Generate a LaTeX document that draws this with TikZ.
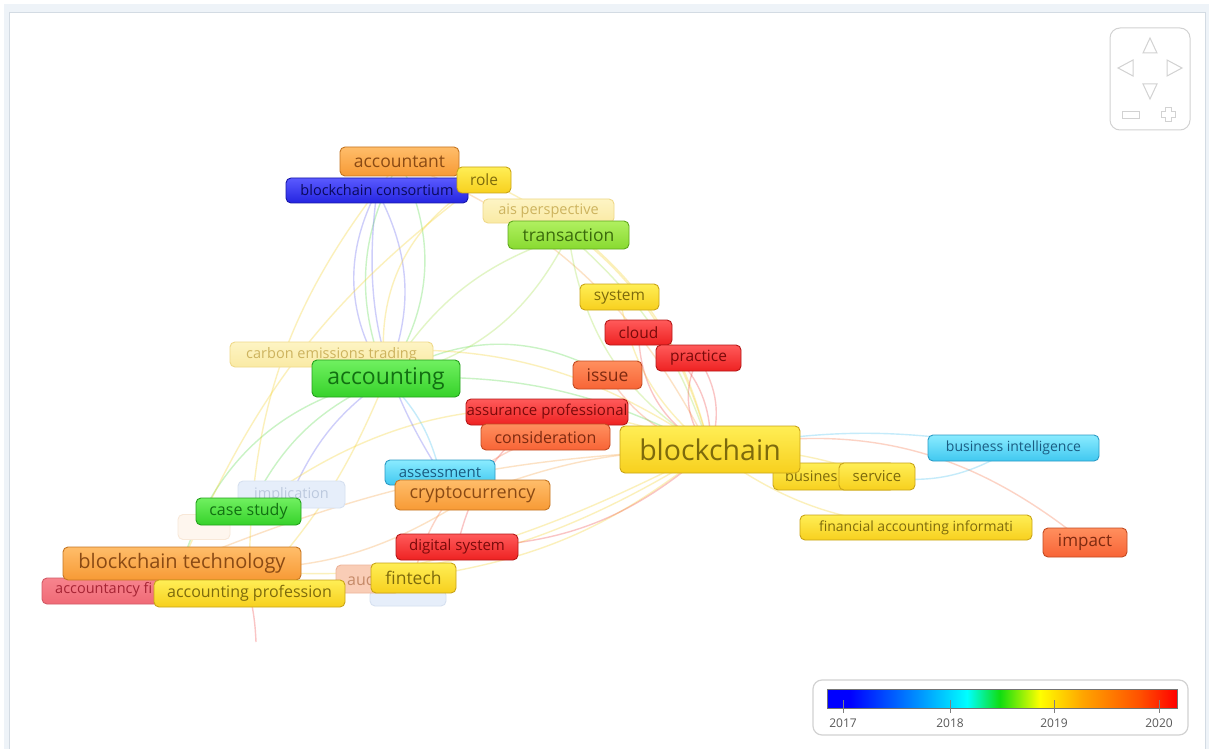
\documentclass[tikz,border=0pt]{standalone}
\usepackage{fontspec}
\setmainfont{Open Sans}
\definecolor{vblue}{HTML}{0000FF}
\definecolor{vazure}{HTML}{0096FF}
\definecolor{vcyan}{HTML}{00FFFF}
\definecolor{vgreen}{HTML}{10DD10}
\definecolor{vyellow}{HTML}{FFFF00}
\definecolor{vorange}{HTML}{FFA500}
\definecolor{vred2}{HTML}{FF5000}
\definecolor{vred}{HTML}{FF0000}
\pgfdeclarehorizontalshading{vosbar}{100bp}{color(0bp)=(vblue); color(25bp)=(vblue); color(28.3bp)=(vblue); color(38.3bp)=(vazure); color(45bp)=(vcyan); color(49.7bp)=(vgreen); color(55.4bp)=(vyellow); color(61.5bp)=(vorange); color(69.7bp)=(vred2); color(75bp)=(vred); color(100bp)=(vred)}
% node colours: T top, B bottom, D border, X text
\definecolor{yT}{HTML}{FFEE55}\definecolor{yB}{HTML}{F7D01E}\definecolor{yD}{HTML}{C9A418}\definecolor{yX}{HTML}{7D6A0C}
\definecolor{oT}{HTML}{FFBD6A}\definecolor{oB}{HTML}{F79A35}\definecolor{oD}{HTML}{C47522}\definecolor{oX}{HTML}{8A4A14}
\definecolor{rT}{HTML}{FF8F5E}\definecolor{rB}{HTML}{F86436}\definecolor{rD}{HTML}{C24A22}\definecolor{rX}{HTML}{7E2A10}
\definecolor{dT}{HTML}{FF5A5A}\definecolor{dB}{HTML}{EE2222}\definecolor{dD}{HTML}{B51818}\definecolor{dX}{HTML}{7A0A0A}
\definecolor{gT}{HTML}{70F060}\definecolor{gB}{HTML}{36D22A}\definecolor{gD}{HTML}{24A01C}\definecolor{gX}{HTML}{127012}
\definecolor{lT}{HTML}{B0F060}\definecolor{lB}{HTML}{88DA30}\definecolor{lD}{HTML}{60A81E}\definecolor{lX}{HTML}{3A6A0C}
\definecolor{bT}{HTML}{5A5AFF}\definecolor{bB}{HTML}{2424E0}\definecolor{bD}{HTML}{1818A8}\definecolor{bX}{HTML}{0A0A5A}
\definecolor{cT}{HTML}{8AEBFF}\definecolor{cB}{HTML}{40C8F0}\definecolor{cD}{HTML}{2C9AC4}\definecolor{cX}{HTML}{1A5C82}
% faded
\definecolor{fyT}{HTML}{FDF4C4}\definecolor{fyB}{HTML}{FAEAA4}\definecolor{fyD}{HTML}{EFD98A}\definecolor{fyX}{HTML}{CDB35E}
\definecolor{fbF}{HTML}{E6EEFA}\definecolor{fbD}{HTML}{D6E0F0}\definecolor{fbX}{HTML}{BCC9DE}
\definecolor{fsF}{HTML}{F9CDB6}\definecolor{fsD}{HTML}{EDB49A}\definecolor{fsX}{HTML}{C58A68}
\definecolor{frT}{HTML}{F7848E}\definecolor{frB}{HTML}{F06A76}\definecolor{frD}{HTML}{D25A66}\definecolor{frX}{HTML}{A62434}
\definecolor{foF}{HTML}{FEF6EE}\definecolor{foD}{HTML}{F8E8D8}
% edges
\definecolor{eY}{HTML}{F5D020}\definecolor{eO}{HTML}{F7A040}\definecolor{eR}{HTML}{F04040}
\definecolor{eOR}{HTML}{F87040}\definecolor{eG}{HTML}{50D840}\definecolor{eL}{HTML}{A0E040}
\definecolor{eB}{HTML}{6060F0}\definecolor{eC}{HTML}{40C0F0}
\definecolor{frameF}{HTML}{EEF3F8}\definecolor{frameD}{HTML}{D3DBE3}
\definecolor{navD}{HTML}{D2D2D2}
\pgfdeclarelayer{back}\pgfdeclarelayer{bg}
\pgfsetlayers{back,bg,main}
\newcommand\kwn[8]{\node[kwb,#6,minimum width=#4pt,minimum height=#5pt,font=\fontsize{#7}{#7}\selectfont] (#1) at (#2,#3) {#8};}
\begin{document}
\begin{tikzpicture}[x=1pt,y=-1pt,
  kwb/.style={draw, rounded corners=5pt, line width=0.9pt, inner sep=0pt},
  yel/.style={draw=yD, top color=yT, bottom color=yB, text=yX},
  ora/.style={draw=oD, top color=oT, bottom color=oB, text=oX},
  ore/.style={draw=rD, top color=rT, bottom color=rB, text=rX},
  red/.style={draw=dD, top color=dT, bottom color=dB, text=dX},
  gre/.style={draw=gD, top color=gT, bottom color=gB, text=gX},
  lim/.style={draw=lD, top color=lT, bottom color=lB, text=lX},
  blu/.style={draw=bD, top color=bT, bottom color=bB, text=bX},
  cya/.style={draw=cD, top color=cT, bottom color=cB, text=cX},
  fye/.style={draw=fyD, top color=fyT, bottom color=fyB, text=fyX},
  fbl/.style={draw=fbD, fill=fbF, text=fbX},
  fsa/.style={draw=fsD, fill=fsF, text=fsX},
  fre/.style={draw=frD, top color=frT, bottom color=frB, text=frX},
  for/.style={draw=foD, fill=foF},
  ed/.style={line width=1.4pt, opacity=0.3},
  navline/.style={draw=navD, line width=1pt},
  yearlbl/.style={font=\fontsize{12}{12}\selectfont, text=black!65}
]
\useasboundingbox (0,0) rectangle (1211,749);
\begin{pgfonlayer}{back}
\fill[white] (0,0) rectangle (1211,749);
\fill[frameF] (4,4) rectangle (1209,749);
\filldraw[fill=white, draw=frameD, line width=0.8pt] (9,12) rectangle (1205,752);
\end{pgfonlayer}

% faded background labels
\kwn{carbon}{331.5}{354.5}{203}{25}{fye}{14.5}{carbon emissions trading}
\kwn{ais}{548.5}{211}{131}{24}{fye}{14.5}{ais perspective}
\kwn{impl}{291.5}{494.5}{107}{27}{fbl}{14.5}{implication}
\kwn{ghosta}{204}{527}{52}{25}{for}{14}{}
\kwn{ghostb}{408}{598}{76}{16}{fbl}{12}{}
\kwn{audbox}{368}{579}{64}{28}{fsa}{15}{}
\node[font=\fontsize{16}{16}\selectfont, text=fsX, anchor=west, inner sep=0pt] (audtxt) at (347,579) {aud};
\kwn{afbox}{113.5}{591}{143}{26}{fre}{14}{}
\node[font=\fontsize{14.5}{14.5}\selectfont, text=frX, anchor=west, inner sep=0pt] (aftxt) at (55,590) {accountancy fi};
\kwn{busbox}{834}{476.5}{122}{27}{yel}{14}{}
\node[font=\fontsize{14.5}{14.5}\selectfont, text=yX, anchor=west, inner sep=0pt] (bustxt) at (785,476.5) {busines};

% main keyword labels
\kwn{cons}{377}{190.5}{182}{25}{blu}{14.5}{blockchain consortium}
\kwn{acct}{399.5}{161.5}{119}{29}{ora}{17.5}{accountant}
\kwn{role}{484}{180}{54}{26}{yel}{15.5}{role}
\kwn{trans}{568.5}{235}{121}{28}{lim}{17.5}{transaction}
\kwn{sys}{619.5}{297}{79}{26}{yel}{15.5}{system}
\kwn{cloud}{638.5}{332.5}{67}{25}{red}{15.5}{cloud}
\kwn{prac}{698.5}{358}{85}{26}{red}{15.5}{practice}
\kwn{acc}{386}{378.5}{148}{37}{gre}{23}{accounting}
\kwn{issue}{607.5}{375}{69}{28}{ore}{17.5}{issue}
\kwn{assur}{547}{412}{162}{26}{red}{15}{assurance professional}
\kwn{consid}{545.5}{437}{129}{26}{ore}{16}{consideration}
\kwn{bc}{710}{449.5}{180}{47}{yel}{28.5}{blockchain}
\kwn{bi}{1013.5}{448}{171}{26}{cya}{14}{business intelligence}
\kwn{serv}{877}{476.5}{76}{27}{yel}{15}{service}
\kwn{fai}{916}{527.5}{232}{25}{yel}{14}{financial accounting informati}
\kwn{impact}{1085}{542.5}{84}{29}{ore}{17}{impact}
\kwn{assess}{440}{472.5}{110}{25}{cya}{15}{assessment}
\kwn{crypto}{472.5}{495}{155}{30}{ora}{18}{cryptocurrency}
\kwn{cs}{248.5}{511.5}{105}{27}{gre}{16}{case study}
\kwn{dig}{457}{547}{122}{26}{red}{15}{digital system}
\kwn{bt}{182}{563.5}{238}{33}{ora}{20}{blockchain technology}
\kwn{ap}{249.5}{593.5}{191}{27}{yel}{16}{accounting profession}
\kwn{fin}{413.5}{578}{85}{30}{yel}{17.5}{fintech}
\coordinate (tail) at (256,642);

% connectors
\begin{pgfonlayer}{bg}
\draw[ed,eB] (cons.center) to[bend right=30] (acc.center);
\draw[ed,eB] (cons.center) to[bend left=25] (acc.center);
\draw[ed,eG] (acct.center) to[bend right=25] (acc.center);
\draw[ed,eG] (acct.center) to[bend left=30] (acc.center);
\draw[ed,eY] (role.center) to[bend right=35] (acc.center);
\draw[ed,eY] (role.center) to[bend left=25] (bc.center);
\draw[ed,eO] (acct.center) to[bend left=20] (bc.center);
\draw[ed,eL] (trans.center) to[bend right=25] (bc.center);
\draw[ed,eL] (trans.center) to[bend left=15] (bc.center);
\draw[ed,eL] (trans.center) to[bend right=20] (acc.center);
\draw[ed,eY] (sys.center) to[bend right=20] (bc.center);
\draw[ed,eY] (ais.center) to[bend left=20] (bc.center);
\draw[ed,eR] (cloud.center) to[bend right=30] (bc.center);
\draw[ed,eR] (prac.center) to[bend left=25] (bc.center);
\draw[ed,eR] (prac.center) to[bend right=35] (bc.center);
\draw[ed,eR] (cloud.center) to[bend left=35] (bc.center);
\draw[ed,eOR] (issue.center) to[bend right=20] (bc.center);
\draw[ed,eG] (acc.center) to[bend left=15] (bc.center);
\draw[ed,eG] (acc.center) to[bend left=30] (issue.center);
\draw[ed,eC] (acc.center) to[bend left=15] (assess.center);
\draw[ed,eG] (acc.center) to[bend right=20] (cs.center);
\draw[ed,eG] (acc.center) to[bend right=30] (bt.center);
\draw[ed,eY] (acc.center) to[bend left=10] (ap.center);
\draw[ed,eB] (acc.center) to[bend right=15] (impl.center);
\draw[ed,eY] (bc.center) to[bend left=20] (bt.center);
\draw[ed,eY] (bc.center) to[bend left=10] (ap.center);
\draw[ed,eO] (bc.center) to[bend right=10] (bt.center);
\draw[ed,eY] (bc.center) to[bend left=15] (fin.center);
\draw[ed,eO] (bc.center) to[bend right=10] (crypto.center);
\draw[ed,eR] (bc.center) to[bend left=20] (dig.center);
\draw[ed,eY] (bc.center) to[bend right=15] (fai.center);
\draw[ed,eY] (bc.center) to[bend left=10] (serv.center);
\draw[ed,eOR] (bc.center) to[bend left=25] (impact.center);
\draw[ed,eC] (bi.center) to[bend left=20] (serv.center);
\draw[ed,eC] (bi.center) to[bend right=10] (bc.center);
\draw[ed,eR] (assur.center) to[bend right=20] (dig.center);
\draw[ed,eY] (carbon.center) to[bend left=20] (bc.center);
\draw[ed,eOR] (consid.center) to[bend right=30] (fin.center);
\draw[ed,eY] (cs.center) to[bend left=30] (bc.center);
\draw[ed,eR] (ap.center) to[bend left=5] (tail);
\draw[ed,eB] (cons.center) to[bend right=20] (assess.center);
\draw[ed,eY] (role.center) to[bend right=15] (bt.center);
\draw[ed,eY] (acct.center) to[bend right=20] (ap.center);
\draw[ed,eO] (crypto.center) to[bend left=20] (bt.center);
\draw[ed,eL] (trans.center) to[bend left=25] (acc.center);
\end{pgfonlayer}

% navigation control
\draw[navline, rounded corners=10pt] (1110,28) rectangle (1190,130);
\draw[navline] (1143,53) -- (1157,53) -- (1150,38) -- cycle;
\draw[navline] (1118,68) -- (1133,60) -- (1133,76) -- cycle;
\draw[navline] (1182,68) -- (1167,60) -- (1167,76) -- cycle;
\draw[navline] (1143,84) -- (1157,84) -- (1150,99) -- cycle;
\draw[navline] (1122,112) rectangle (1139,119);
\draw[navline] (1165,108) -- (1171,108) -- (1171,112) -- (1175,112) -- (1175,118) -- (1171,118) -- (1171,122) -- (1165,122) -- (1165,118) -- (1161,118) -- (1161,112) -- (1165,112) -- cycle;

% legend
\draw[draw=navD, line width=1.2pt, rounded corners=9pt] (813,680) rectangle (1188,735);
\shade[shading=vosbar] (827,689) rectangle (1177,708);
\draw[black!55, line width=0.6pt] (827,689) rectangle (1177,708);
\foreach \xx/\yy in {843/2017, 950/2018, 1054/2019, 1159/2020}{
  \draw[black!50, line width=0.6pt] (\xx,700) -- (\xx,713);
  \node[yearlbl] (y\yy) at (\xx,723) {\yy};
}
\end{tikzpicture}
\end{document}
